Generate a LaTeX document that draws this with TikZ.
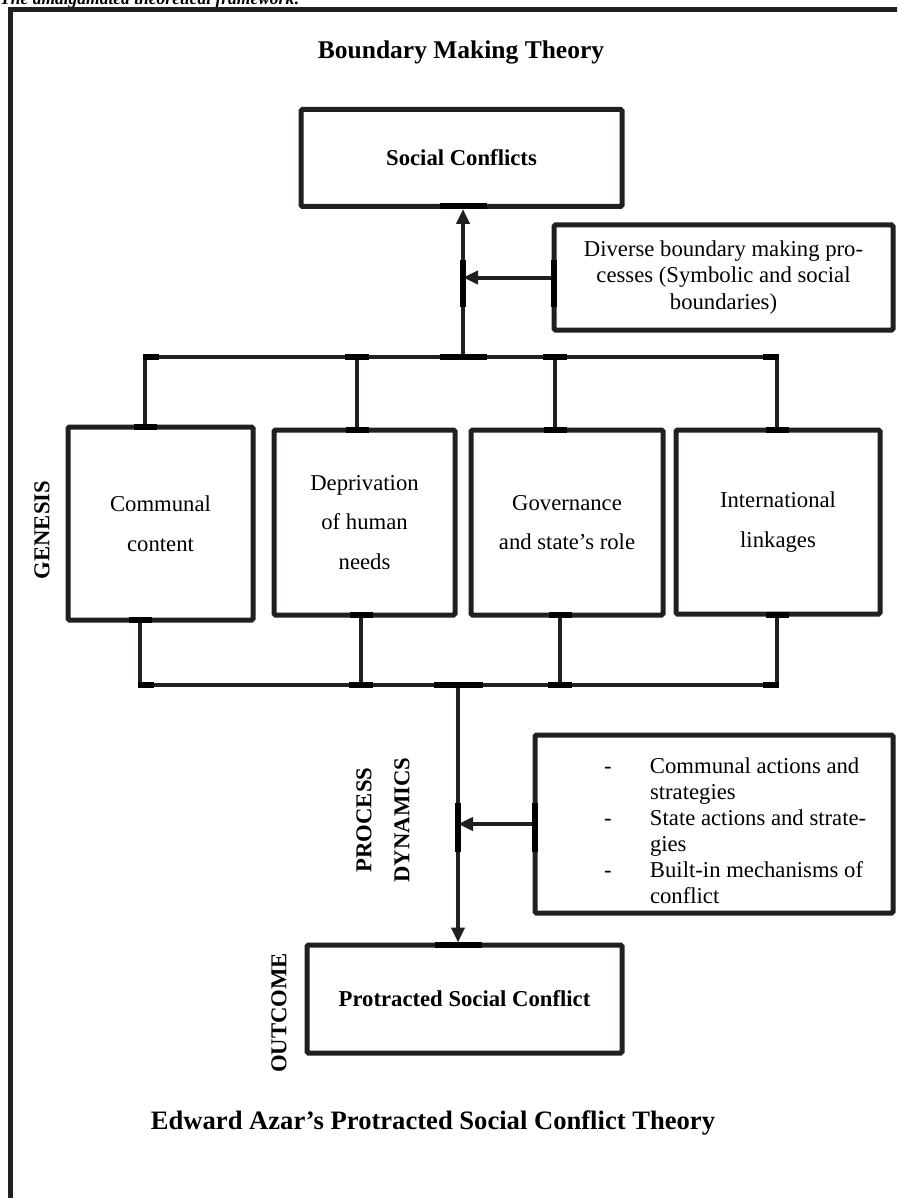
\documentclass[tikz,border=0pt]{standalone}
\usepackage{fontspec}
\setmainfont{Liberation Serif}
\usetikzlibrary{arrows.meta}
\definecolor{ink}{HTML}{231F20}
\begin{document}
\begin{tikzpicture}[x=1pt,y=-1pt,
  box/.style={draw=ink, line width=5pt, rounded corners=1.5pt, fill=white, inner sep=0pt, align=center,
    font=\fontsize{22.7}{39.5}\selectfont},
  conn/.style={draw=ink, line width=4pt},
  arr/.style={conn, -{Triangle[length=15pt,width=13pt]}},
  gl/.style={draw=black, line width=6pt},
  title/.style={font=\fontsize{26}{30}\selectfont\bfseries, inner sep=0pt},
  side/.style={font=\fontsize{22.7}{26}\selectfont\bfseries, rotate=90, inner sep=0pt}]
\useasboundingbox (0,0) rectangle (897,1198);
\clip (0,0) rectangle (897,1198);
% cut heading and outer frame
\node[anchor=base west, inner sep=0pt, font=\fontsize{17.5}{20}\selectfont\bfseries\itshape] (head) at (0,5) {The amalgamated theoretical framework:};
\draw[ink, line width=5pt] (10,1240) -- (10,10) -- (930,10);
% titles
\node[title, font=\fontsize{25.5}{30}\selectfont\bfseries] (bmt) at (461,52) {Boundary Making Theory};
\node[title, font=\fontsize{26.6}{30}\selectfont\bfseries] (eat) at (433,1123) {Edward Azar’s Protracted Social Conflict Theory};
% boxes
\node[box, minimum width=321pt, minimum height=97pt, font=\fontsize{22.7}{26}\selectfont\bfseries] (sc) at (461.5,158) {Social Conflicts};
\node[box, minimum width=339pt, minimum height=105pt, font=\fontsize{22.7}{26.5}\selectfont] (div) at (723.5,277.5)
  {Diverse boundary making pro-\\cesses (Symbolic and social\\boundaries)};
\node[box, minimum width=185pt, minimum height=193pt] (b1) at (160.5,523.5) {Communal\\content};
\node[box, minimum width=181pt, minimum height=185pt] (b2) at (364.5,522.5) {Deprivation\\of human\\needs};
\node[box, minimum width=192pt, minimum height=185pt] (b3) at (567,522.5) {Governance\\and state’s role};
\node[box, minimum width=204pt, minimum height=184pt] (b4) at (778,522) {International\\linkages};
\node[box, minimum width=358pt, minimum height=178pt, align=left] (proc) at (714,824)
  {\begin{minipage}[c][178pt][t]{358pt}\fontsize{22.7}{26}\selectfont
   \vspace*{23pt}%
   \hspace*{69pt}\makebox[46pt][l]{-}Communal actions and\\
   \hspace*{115pt}strategies\\
   \hspace*{69pt}\makebox[46pt][l]{-}State actions and strate-\\
   \hspace*{115pt}gies\\
   \hspace*{69pt}\makebox[46pt][l]{-}Built-in mechanisms of\\
   \hspace*{115pt}conflict
   \end{minipage}};
\node[box, minimum width=315pt, minimum height=108pt, font=\fontsize{22.7}{26}\selectfont\bfseries] (psc) at (464.5,999) {Protracted Social Conflict};
% side labels
\node[side] (gen) at (42,530) {GENESIS};
\node[side] (pro) at (364,820) {PROCESS};
\node[side] (dyn) at (402,820) {DYNAMICS};
\node[side] (out) at (279,1013) {OUTCOME};
% top bus
\coordinate (tl) at (145,357);
\coordinate (t2) at (357,357);
\coordinate (bt) at (463,357);
\coordinate (t3) at (555,357);
\coordinate (tr) at (777,357);
\draw[conn, line join=round] (tl |- b1.north) -- (tl) -- (tr) -- (tr |- b4.north);
\draw[conn] (t2) -- (t2 |- b2.north);
\draw[conn] (t3) -- (t3 |- b3.north);
\draw[arr] (bt) -- (bt |- sc.south);
\draw[arr] (div.west) -- (div.west -| bt);
% bottom bus
\coordinate (bl) at (140,685);
\coordinate (u2) at (361,685);
\coordinate (bm) at (458,685);
\coordinate (u3) at (560,685);
\coordinate (br) at (777,685);
\draw[conn, line join=round] (bl |- b1.south) -- (bl) -- (br) -- (br |- b4.south);
\draw[conn] (u2 |- b2.south) -- (u2);
\draw[conn] (u3 |- b3.south) -- (u3);
\draw[arr] (bm) -- (bm |- psc.north);
\draw[arr] (proc.west) -- (proc.west -| bm);
% glue marks
\foreach \x/\y/\l in {463/206.5/47, 463/357/47, 555/357/24, 357/357/24, 151/357/16, 771/357/16,
  145/427/23, 357/430/23, 555/430/23, 777/430/23,
  140/620/23, 361/615/23, 560/615/23, 777/615/23,
  146/685/16, 361/685/24, 458/685/49, 560/685/24, 771/685/16, 458/945/47}
  \draw[gl] (\x-\l/2,\y) -- (\x+\l/2,\y);
\foreach \x/\y/\l in {463/283/47, 554/283/47, 458/827/49, 535/827/49}
  \draw[gl] (\x,\y-\l/2) -- (\x,\y+\l/2);
\end{tikzpicture}
\end{document}
